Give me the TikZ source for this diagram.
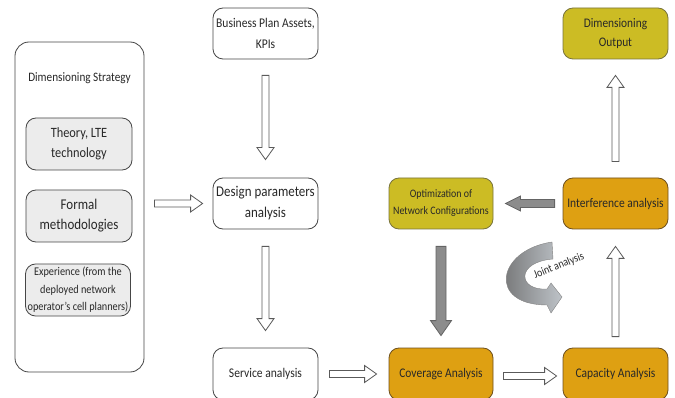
\documentclass[tikz,border=0pt]{standalone}
\usepackage{fontspec}
\setmainfont{Carlito}[FakeStretch=0.87]
\usetikzlibrary{calc}
\definecolor{orng}{RGB}{222,160,18}
\definecolor{orngline}{RGB}{110,80,30}
\definecolor{olv}{RGB}{204,188,36}
\definecolor{olvline}{RGB}{120,115,60}
\definecolor{boxline}{RGB}{70,70,70}
\definecolor{txt}{RGB}{40,40,40}
\definecolor{innerfill}{RGB}{236,236,236}
\definecolor{arrline}{RGB}{90,90,90}
\definecolor{garrfill}{RGB}{140,140,140}
\definecolor{garrline}{RGB}{100,100,100}
\tikzset{
  bw/.store in=\blkw, bh/.store in=\blkh, bl/.store in=\blkl,
  gs/.store in=\blkgs, ge/.store in=\blkge,
  bw=3.5pt, bh=8.5pt, bl=12pt, gs=10pt, ge=10pt,
  blk/.style={to path={let \p1=($(\tikztostart)!\blkgs!(\tikztotarget)$),
      \p2=($(\tikztotarget)!\blkge!(\tikztostart)$),
      \p3=($(\p2)!\blkl!(\p1)$) in
      ($(\p1)!\blkw!90:(\p2)$) -- ($(\p3)!\blkw!-90:(\p1)$) -- ($(\p3)!\blkh!-90:(\p1)$)
      -- (\p2) -- ($(\p3)!\blkh!90:(\p1)$) -- ($(\p3)!\blkw!90:(\p1)$)
      -- ($(\p1)!\blkw!-90:(\p2)$) -- cycle}},
  harrow/.style={blk, draw=arrline, fill=white, line width=0.8pt, line join=miter},
  garrow/.style={blk, draw=garrline, fill=garrfill, line width=0.8pt, line join=miter},
  box/.style={rounded corners=10pt, draw=boxline, line width=0.8pt, align=center,
    inner sep=0pt, text=txt, minimum width=105pt, minimum height=51pt},
  wbox/.style={box, fill=white},
  ibox/.style={box, fill=innerfill, minimum width=106pt, minimum height=52pt},
  obox/.style={box, fill=orng, draw=orngline},
  ybox/.style={box, fill=olv, draw=olvline},
}
\begin{document}
\begin{tikzpicture}[x=1pt,y=-1pt]
\useasboundingbox (0,0) rectangle (675,398);

% left column
\node[box, fill=white, rounded corners=14pt, minimum width=129pt, minimum height=330pt] (strat) at (79.5,207) {};
\node[text=txt, font=\fontsize{12.9}{20}\selectfont] (title) at (79.5,78) {Dimensioning Strategy};
\node[ibox, font=\fontsize{14.2}{20}\selectfont] (theory) at (79,144) {Theory, LTE\\technology};
\node[ibox, font=\fontsize{14.9}{20}\selectfont] (formal) at (79,216) {Formal\\methodologies};
\node[ibox, minimum width=105pt, font=\fontsize{11.8}{17.5}\selectfont] (exper) at (78,290) {Experience (from the\\deployed network\\operator's cell planners)};

% middle column
\node[wbox, font=\fontsize{13.3}{20.5}\selectfont] (biz) at (265.5,33.5) {Business Plan Assets,\\KPIs};
\node[wbox, font=\fontsize{14.9}{21}\selectfont] (design) at (265.5,203.5) {Design parameters\\analysis};
\node[wbox, minimum height=52pt, font=\fontsize{13.3}{20}\selectfont] (service) at (265.5,374) {Service analysis};

% right part
\node[obox, minimum width=104pt, minimum height=52pt, font=\fontsize{13.2}{20}\selectfont] (coverage) at (441,374) {Coverage Analysis};
\node[obox, minimum height=52pt, font=\fontsize{13.2}{20}\selectfont] (capacity) at (615.5,374) {Capacity Analysis};
\node[obox, font=\fontsize{13.2}{20}\selectfont] (interf) at (615.5,203.5) {Interference analysis};
\node[ybox, minimum width=104pt, font=\fontsize{11.4}{17}\selectfont] (optim) at (441,203.5) {Optimization of\\Network Configurations};
\node[ybox, font=\fontsize{13.1}{19.5}\selectfont] (output) at (615.5,33.5) {Dimensioning\\Output};

% hollow arrows
\draw[harrow, gs=10pt, ge=10pt] (strat.east |- design.west) to (design.west);
\draw[harrow, gs=16pt, ge=18pt] (biz.south) to (design.north);
\draw[harrow, gs=17pt, ge=17pt] (design.south) to (service.north);
\draw[harrow, gs=11pt, ge=12pt] (service.east) to (coverage.west);
\draw[harrow, gs=10pt, ge=6pt] ([yshift=-2pt]coverage.east) to ([yshift=-2pt]capacity.west);
\draw[harrow, gs=11pt, ge=17pt] (capacity.north) to (interf.south);
\draw[harrow, gs=16pt, ge=16pt] (interf.north) to (output.south);

% grey arrows
\draw[garrow, bw=4pt, bh=7.5pt, bl=15pt, gs=8pt, ge=12pt] (interf.west) to (optim.east);
\draw[garrow, bw=5pt, bh=10.5pt, bl=15pt, gs=17pt, ge=12pt] (optim.south) to (coverage.north);

% joint analysis curved arrow
\shade[left color={rgb,255:red,100;green,100;blue,100}, right color={rgb,255:red,190;green,195;blue,200},
  draw={rgb,255:red,130;green,130;blue,130}, line width=0.4pt]
  (552,242) .. controls (497,250) and (487,305) .. (547,305)
  -- (551,313) -- (562,297) -- (551,283) -- (547,289)
  .. controls (518,291) and (515,262) .. (553,259) -- cycle;
\node[text=txt, rotate=22, font=\fontsize{11.5}{12}\selectfont] (joint) at (559,266) {Joint analysis};
\end{tikzpicture}
\end{document}
